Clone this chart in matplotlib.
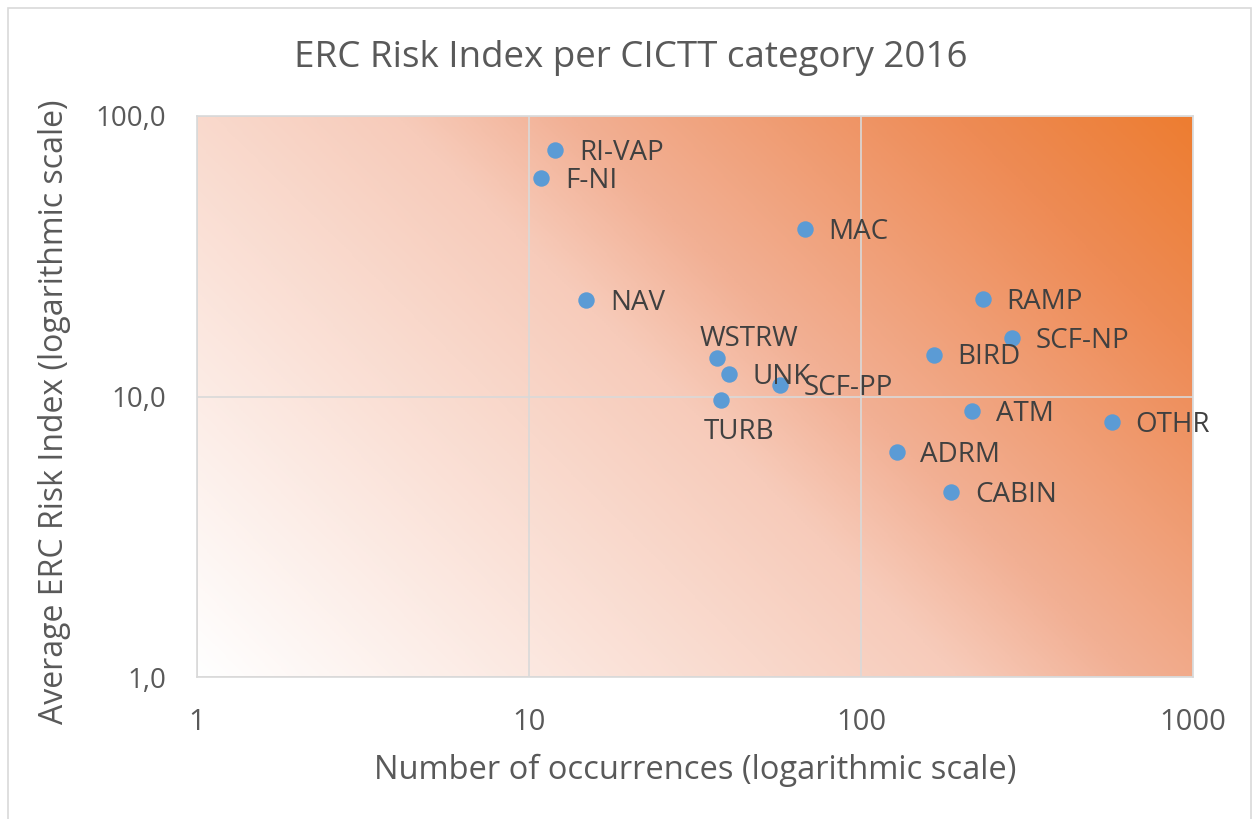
import numpy as np
import matplotlib
matplotlib.use("Agg")
import matplotlib.pyplot as plt
from matplotlib.patches import Rectangle
from matplotlib.colors import LinearSegmentedColormap
from matplotlib.ticker import FixedLocator, NullLocator

# data
categories = ["RI-VAP", "F-NI", "MAC", "NAV", "RAMP", "SCF-NP", "BIRD", "WSTRW",
              "UNK", "SCF-PP", "TURB", "ATM", "OTHR", "ADRM", "CABIN"]
occurrences = [12.0, 10.9, 67.8, 14.9, 233, 285, 166, 36.8,
               40.0, 57.0, 37.9, 216, 570, 128, 187]
risk_index = [75.6, 60.1, 39.5, 22.1, 22.3, 16.2, 14.1, 13.7,
              12.0, 11.0, 9.7, 8.88, 8.11, 6.34, 4.57]

x_ticks = [1, 10, 100, 1000]
x_ticklabels = ["1", "10", "100", "1000"]
y_ticks = [1, 10, 100]
y_ticklabels = ["1,0", "10,0", "100,0"]

grey = "#595959"
fam = ["Open Sans", "DejaVu Sans"]

fig = plt.figure(figsize=(12.57, 8.19), dpi=100)
fig.patches.append(Rectangle((0.006, -0.01), 0.989, 1.0, transform=fig.transFigure,
                             fill=False, edgecolor="#D9D9D9", linewidth=1.2))

W, H = 1257, 819
l, r, t, b = 197, 1193, 116, 677
ax = fig.add_axes([l / W, 1 - b / H, (r - l) / W, (b - t) / H])
ax.set_xscale("log")
ax.set_yscale("log")
ax.set_xlim(1, 1000)
ax.set_ylim(1, 100)

# 45 degree gradient, white bottom-left to orange top-right
grad = LinearSegmentedColormap.from_list("grad", [
    (0.0, "#FFFFFF"), (0.37, "#F9D8CB"), (0.49, "#F7CBBA"),
    (0.6, "#F2B094"), (0.85, "#EE8B55"), (1.0, "#ED7D31")])
pw, ph = r - l, b - t
gx, gy = np.meshgrid(np.linspace(0, 1, 500), np.linspace(0, 1, 300))
tt = (gx * pw + gy * ph) / (pw + ph)
ax.imshow(grad(tt), extent=[0, 1, 0, 1], origin="lower", transform=ax.transAxes,
          aspect="auto", zorder=0, interpolation="bilinear")

ax.grid(True, which="major", color="#D9D9D9", linewidth=1.2, zorder=1)
ax.xaxis.set_major_locator(FixedLocator(x_ticks))
ax.yaxis.set_major_locator(FixedLocator(y_ticks))
ax.xaxis.set_minor_locator(NullLocator())
ax.yaxis.set_minor_locator(NullLocator())
ax.set_xticklabels(x_ticklabels, family=fam, fontsize=21, color=grey)
ax.set_yticklabels(y_ticklabels, family=fam, fontsize=20, color=grey)
ax.tick_params(axis="x", length=0, pad=22)
ax.tick_params(axis="y", length=0, pad=22)
for s in ax.spines.values():
    s.set_color("#D9D9D9")
    s.set_linewidth(1.2)

ax.scatter(occurrences, risk_index, s=140, color="#5B9BD5", zorder=3, linewidths=0)

offsets = {"WSTRW": (23, 14, "center"), "TURB": (13, -23, "center")}
for name, x, y in zip(categories, occurrences, risk_index):
    dx, dy, ha = offsets.get(name, (17, -2, "left"))
    ax.annotate(name, (x, y), xytext=(dx, dy), textcoords="offset points",
                ha=ha, va="center", fontsize=20, color="#404040", family=fam, zorder=4)

fig.text(631 / W, 1 - 58 / H, "ERC Risk Index per CICTT category 2016",
         ha="center", va="center", fontsize=26.5, color=grey, family=fam)
fig.text(695 / W, 1 - 770 / H, "Number of occurrences (logarithmic scale)",
         ha="center", va="center", fontsize=23.5, color=grey, family=fam)
fig.text(55 / W, 1 - 412 / H, "Average ERC Risk Index (logarithmic scale)",
         ha="center", va="center", rotation=90, fontsize=23, color=grey, family=fam)

fig.savefig("out.png", dpi=100)
